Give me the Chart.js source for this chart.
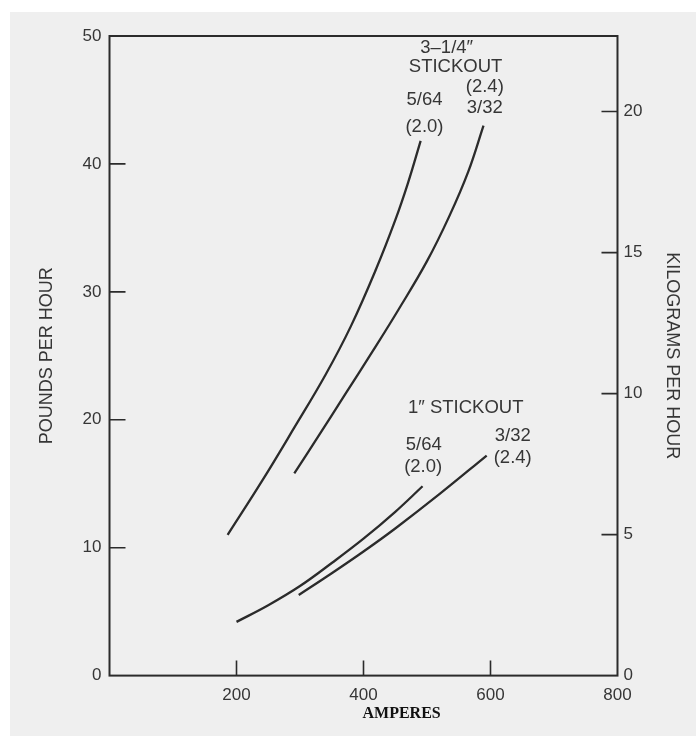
<!DOCTYPE html>
<html>
<head>
<meta charset="utf-8">
<script src="https://cdn.jsdelivr.net/npm/chart.js@4.4.1/dist/chart.umd.min.js"></script>
<style>
  html, body { margin: 0; padding: 0; background: #fff; }
  #paper { position: absolute; left: 10px; top: 12px; width: 686px; height: 724px; background: #efefef; }
</style>
</head>
<body>
<div id="paper"><canvas id="myChart" width="686" height="724"></canvas></div>
<script>
// deposition rate, amperes vs pounds per hour
const amps564Long = [186, 240, 290, 340, 380, 420, 450, 470, 490];
const lb564Long   = [11.0, 15.2, 19.3, 23.5, 27.3, 31.8, 35.6, 38.5, 41.8];
const amps332Long = [291, 330, 370, 415, 455, 500, 535, 565, 589];
const lb332Long   = [15.8, 18.8, 21.9, 25.4, 28.6, 32.4, 35.9, 39.4, 43.0];
const amps564Short = [200, 250, 300, 350, 400, 450, 493];
const lb564Short   = [4.2, 5.5, 7.0, 8.8, 10.7, 12.8, 14.8];
const amps332Short = [298, 350, 400, 450, 520, 594];
const lb332Short   = [6.3, 8.0, 9.7, 11.5, 14.2, 17.2];

const xTicks = [200, 400, 600, 800];
const lbTicks = [0, 10, 20, 30, 40, 50];
const kgTicks = [0, 5, 10, 15, 20];
const LB_PER_KG = 2.20462;

// curve labels (text, amps, lb)
const noteText = ['3\u20131/4\u2033', 'STICKOUT', '(2.4)', '3/32', '5/64', '(2.0)',
                  '1\u2033 STICKOUT', '5/64', '(2.0)', '3/32', '(2.4)'];
const noteAmps = [531, 545, 591, 591, 496, 496, 561, 495, 494, 635, 635];
const noteLb   = [49.1, 47.6, 46.0, 44.4, 45.0, 42.9, 20.9, 18.0, 16.3, 18.7, 17.0];

const ink = '#2b2b2b';
const txt = '#363636';
const sans = '"Liberation Sans", Arial, sans-serif';

function pts(xs, ys) {
  return xs.map((x, i) => ({ x: x, y: ys[i] }));
}
function curve(xs, ys) {
  return {
    data: pts(xs, ys),
    showLine: true,
    borderColor: ink,
    borderWidth: 2.3,
    pointRadius: 0,
    tension: 0.4,
    yAxisID: 'y'
  };
}

const frame = {
  id: 'frame',
  afterDraw(chart) {
    const ctx = chart.ctx;
    const a = chart.chartArea;
    const sx = chart.scales.x, sy = chart.scales.y, sk = chart.scales.kg;
    ctx.save();
    ctx.strokeStyle = ink;
    ctx.lineWidth = 2;
    ctx.strokeRect(a.left, a.top, a.right - a.left, a.bottom - a.top);
    ctx.lineWidth = 1.6;
    ctx.beginPath();
    lbTicks.slice(1, -1).forEach(v => {
      const p = sy.getPixelForValue(v);
      ctx.moveTo(a.left, p); ctx.lineTo(a.left + 16, p);
    });
    kgTicks.slice(1).forEach(v => {
      const p = sk.getPixelForValue(v);
      ctx.moveTo(a.right, p); ctx.lineTo(a.right - 16, p);
    });
    xTicks.slice(0, -1).forEach(v => {
      const p = sx.getPixelForValue(v);
      ctx.moveTo(p, a.bottom); ctx.lineTo(p, a.bottom - 15);
    });
    ctx.stroke();

    ctx.fillStyle = txt;
    ctx.font = '18.5px ' + sans;
    ctx.textAlign = 'center';
    ctx.textBaseline = 'middle';
    noteText.forEach((t, i) => {
      ctx.fillText(t, sx.getPixelForValue(noteAmps[i]), sy.getPixelForValue(noteLb[i]));
    });

    ctx.fillStyle = '#111';
    ctx.font = 'bold 16px "Liberation Serif", "Times New Roman", serif';
    ctx.fillText('AMPERES', sx.getPixelForValue(460), a.bottom + 38);
    ctx.restore();
  }
};

const config = {
  type: 'scatter',
  data: {
    datasets: [
      curve(amps564Long, lb564Long),
      curve(amps332Long, lb332Long),
      curve(amps564Short, lb564Short),
      curve(amps332Short, lb332Short)
    ]
  },
  options: {
    responsive: false,
    animation: false,
    layout: { padding: { left: 22, right: 9, top: 24, bottom: 20 } },
    plugins: { legend: { display: false }, tooltip: { enabled: false } },
    scales: {
      x: {
        type: 'linear', min: 0, max: 800,
        grid: { display: false, drawTicks: false },
        border: { display: false },
        afterBuildTicks: s => { s.ticks = xTicks.map(v => ({ value: v })); },
        ticks: { color: txt, font: { family: sans, size: 17 }, padding: 10 }
      },
      y: {
        type: 'linear', position: 'left', min: 0, max: 50,
        grid: { display: false, drawTicks: false },
        border: { display: false },
        afterBuildTicks: s => { s.ticks = lbTicks.map(v => ({ value: v })); },
        ticks: { color: txt, font: { family: sans, size: 17 }, padding: 8 },
        title: {
          display: true, text: 'POUNDS PER HOUR', color: txt,
          font: { family: sans, size: 18 }, padding: { top: 4, bottom: 17 }
        }
      },
      kg: {
        type: 'linear', position: 'right', min: 0, max: 50 / LB_PER_KG,
        grid: { display: false, drawTicks: false },
        border: { display: false },
        afterBuildTicks: s => { s.ticks = kgTicks.map(v => ({ value: v })); },
        ticks: { color: txt, font: { family: sans, size: 17 }, padding: 6 },
        title: {
          display: true, text: 'KILOGRAMS PER HOUR', color: txt,
          font: { family: sans, size: 18 }, padding: { top: 4, bottom: 13 }
        }
      }
    }
  },
  plugins: [frame]
};

new Chart('myChart', config);
</script>
</body>
</html>
